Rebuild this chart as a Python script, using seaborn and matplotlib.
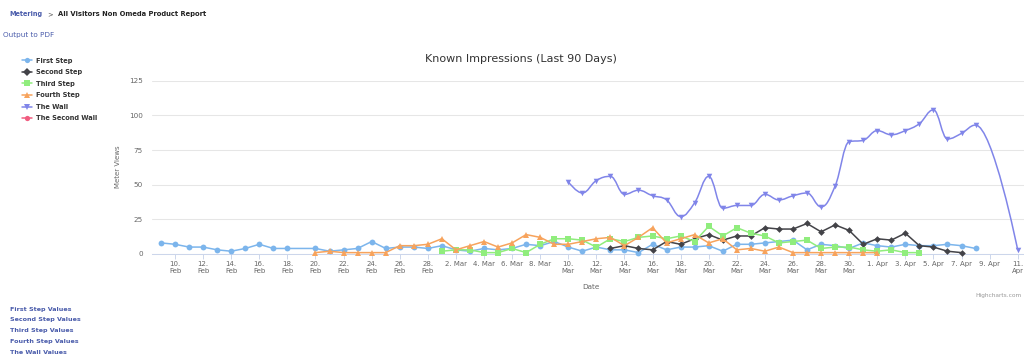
import pandas as pd
import matplotlib
matplotlib.use("Agg")
import matplotlib.pyplot as plt
from matplotlib.path import Path
from matplotlib.patches import PathPatch
from matplotlib.lines import Line2D
import matplotlib.dates as mdates
import seaborn as sns

# Daily meter views (None = no value that day)
first_step_start = "2018-02-09"
first_step = [8, 7, 5, 5, 3, 2, 4, 7, 4, 4, None, 4, 2, 3, 4, 9, 4, 5, 5, 4,
              6, 3, 2, 4, 3, 4, 7, 6, 9, 5, 2, 5, 3, 3, 1, 7, 3, 5, 5, 6, 2, 7,
              7, 8, 9, 10, 3, 7, 6, 4, 8,
              6, 5, 7, 6, 6, 7, 6, 4]
second_step_start = "2018-03-13"
second_step = [4, 6, 4, 3, 9, 7, 11, 14, 10, 13, 13, 19, 18, 18, 22, 16, 21, 17, 7,
               11, 10, 15, 6, 5, 2, 1]
third_step_start = "2018-03-01"
third_step = [2, 3, 3, 1, 1, 4, 1, 7, 11, 11, 10, 5, 11, 9, 12, 13, 11, 13, 9, 20,
              13, 19, 15, 13, 8, 9, 10, 4, 5, 5, 3,
              2, 3, 1, 1]
fourth_step_start = "2018-02-20"
fourth_step = [1, 2, 1, 1, 1, 1, 6, 6, 7,
               11, 3, 6, 9, 5, 8, 14, 12, 7, 7, 9, 11, 12, 6, 12, 19, 8, 11, 14, 8,
               11, 3, 4, 2, 5, 1, 1, 1, 1, 1, 1,
               1]
wall_start = "2018-03-10"
wall = [52, 44, 53, 56, 43, 46, 42, 39, 27, 37, 56, 33, 35, 35, 43, 39, 42, 44, 34,
        49, 81, 82,
        89, 86, 89, 94, 104, 83, 87, 93, None, None, 3]

series_names = ["First Step", "Second Step", "Third Step", "Fourth Step",
                "The Wall", "The Second Wall"]
series_colors = ["#7cb5ec", "#434348", "#90ed7d", "#f7a35c", "#8085e9", "#f15c80"]
series_markers = ["o", "D", "s", "^", "v", "o"]

tick_dates = pd.date_range("2018-02-10", "2018-04-11", freq="2D")
tick_labels = ["10.\nFeb", "12.\nFeb", "14.\nFeb", "16.\nFeb", "18.\nFeb",
               "20.\nFeb", "22.\nFeb", "24.\nFeb", "26.\nFeb", "28.\nFeb",
               "2. Mar", "4. Mar", "6. Mar", "8. Mar",
               "10.\nMar", "12.\nMar", "14.\nMar", "16.\nMar", "18.\nMar",
               "20.\nMar", "22.\nMar", "24.\nMar", "26.\nMar", "28.\nMar",
               "30.\nMar",
               "1. Apr", "3. Apr", "5. Apr", "7. Apr", "9. Apr", "11.\nApr"]
y_ticks = [0, 25, 50, 75, 100, 125]
value_links = ["First Step Values", "Second Step Values", "Third Step Values",
               "Fourth Step Values", "The Wall Values"]


def series_frame(start, values):
    df = pd.DataFrame({"date": pd.date_range(start, periods=len(values)),
                       "views": pd.to_numeric(pd.Series(values, dtype="object"))})
    return df.dropna()


def spline_path(xs, ys, smoothing=1.5):
    # Highcharts-style spline: cubic bezier through every point
    n = len(xs)
    left = list(zip(xs, ys))
    right = list(zip(xs, ys))
    d = smoothing + 1
    for i in range(1, n - 1):
        x, y = xs[i], ys[i]
        px, py, nx, ny = xs[i - 1], ys[i - 1], xs[i + 1], ys[i + 1]
        lcx, lcy = (smoothing * x + px) / d, (smoothing * y + py) / d
        rcx, rcy = (smoothing * x + nx) / d, (smoothing * y + ny) / d
        corr = (rcy - lcy) * (rcx - x) / (rcx - lcx) + y - rcy
        lcy += corr
        rcy += corr
        if lcy > py and lcy > y:
            lcy = max(py, y)
            rcy = 2 * y - lcy
        elif lcy < py and lcy < y:
            lcy = min(py, y)
            rcy = 2 * y - lcy
        if rcy > ny and rcy > y:
            rcy = max(ny, y)
            lcy = 2 * y - rcy
        elif rcy < ny and rcy < y:
            rcy = min(ny, y)
            lcy = 2 * y - rcy
        left[i] = (lcx, lcy)
        right[i] = (rcx, rcy)
    verts = [(xs[0], ys[0])]
    codes = [Path.MOVETO]
    for i in range(1, n):
        verts += [right[i - 1], left[i], (xs[i], ys[i])]
        codes += [Path.CURVE4] * 3
    return Path(verts, codes)


sns.set_theme(style="white")
plt.rcParams["font.family"] = ["DejaVu Sans"]

W, H = 1024, 361
fig = plt.figure(figsize=(W / 100, H / 100), dpi=100)


def px_text(x, y, s, **kw):
    fig.text(x / W, 1 - y / H, s, **kw)


ax = fig.add_axes([152 / W, (H - 254) / H, (1024 - 152) / W, (254 - 80.7) / H])

step_data = [(first_step_start, first_step), (second_step_start, second_step),
             (third_step_start, third_step), (fourth_step_start, fourth_step)]
msizes = [4.2, 3.4, 4.0, 4.2]
for i, (start, vals) in enumerate(step_data):
    df = series_frame(start, vals)
    sns.lineplot(data=df, x="date", y="views", ax=ax, color=series_colors[i],
                 marker=series_markers[i], markersize=msizes[i],
                 markeredgewidth=0, linewidth=1.1, clip_on=False, zorder=3 + i)

wall_df = series_frame(wall_start, wall)
wx = mdates.date2num(wall_df["date"])
wy = wall_df["views"].to_numpy(dtype=float)
ax.add_patch(PathPatch(spline_path(list(wx), list(wy)), facecolor="none",
                       edgecolor=series_colors[4], linewidth=1.1, zorder=8))
sns.scatterplot(data=wall_df, x="date", y="views", ax=ax, color=series_colors[4],
                marker="v", s=16, linewidth=0, zorder=9, clip_on=False)

ax.set_ylim(0, 125)
ax.set_xlim(pd.Timestamp("2018-02-09") - pd.Timedelta(hours=15.4),
            pd.Timestamp("2018-04-11") + pd.Timedelta(hours=10.8))
ax.set_yticks(y_ticks)
ax.set_yticklabels([str(v) for v in y_ticks])
ax.set_xticks(tick_dates)
ax.set_xticklabels(tick_labels, linespacing=1.25)
ax.grid(axis="y", color="#e6e6e6", linewidth=0.75)
ax.set_axisbelow(True)
for side in ["top", "right", "left"]:
    ax.spines[side].set_visible(False)
ax.spines["bottom"].set_color("#ccd6eb")
ax.spines["bottom"].set_linewidth(0.75)
ax.tick_params(axis="x", bottom=True, length=3.6, width=0.7, color="#ccd6eb",
               direction="out", pad=1.5, labelsize=5.0, labelcolor="#666666")
ax.tick_params(axis="y", left=False, length=0, pad=6.5, labelsize=5.2,
               labelcolor="#666666")
ax.set_xlabel("")
ax.set_ylabel("")

# titles and axis names
px_text(521, 59, "Known Impressions (Last 90 Days)", ha="center", va="center",
        fontsize=8, color="#333333")
px_text(118, 167, "Meter Views", ha="center", va="center", rotation=90,
        fontsize=5.0, color="#666666")
px_text(591, 287, "Date", ha="center", va="center", fontsize=5.2, color="#666666")
px_text(1022, 296, "Highcharts.com", ha="right", va="center", fontsize=4.2,
        color="#999999")

# page header
link_blue = "#4a5cab"
px_text(9, 14, "Metering", ha="left", va="center", fontsize=4.7,
        fontweight="bold", color=link_blue)
px_text(47, 14, ">", ha="left", va="center", fontsize=4.8, color="#555555")
px_text(58, 14, "All Visitors Non Omeda Product Report", ha="left", va="center",
        fontsize=4.9, fontweight="bold", color="#222222")
px_text(3, 35, "Output to PDF", ha="left", va="center", fontsize=5.2,
        color=link_blue)

# legend
handles = [Line2D([0], [0], color=c, marker=m, markersize=3.8, markeredgewidth=0,
                  linewidth=1.1) for c, m in zip(series_colors, series_markers)]
fig.legend(handles, series_names, loc="upper left",
           bbox_to_anchor=(22 / W, 1 - 57.5 / H), frameon=False, borderpad=0,
           borderaxespad=0, handlelength=1.5, handletextpad=0.6,
           labelspacing=0.84, prop={"size": 4.8, "weight": "bold"},
           labelcolor="#333333")

# value links under the chart
for k, name in enumerate(value_links):
    px_text(10, 309 + 10.8 * k, name, ha="left", va="center", fontsize=4.6,
            fontweight="bold", color=link_blue)

fig.savefig("out.png", dpi=100)
